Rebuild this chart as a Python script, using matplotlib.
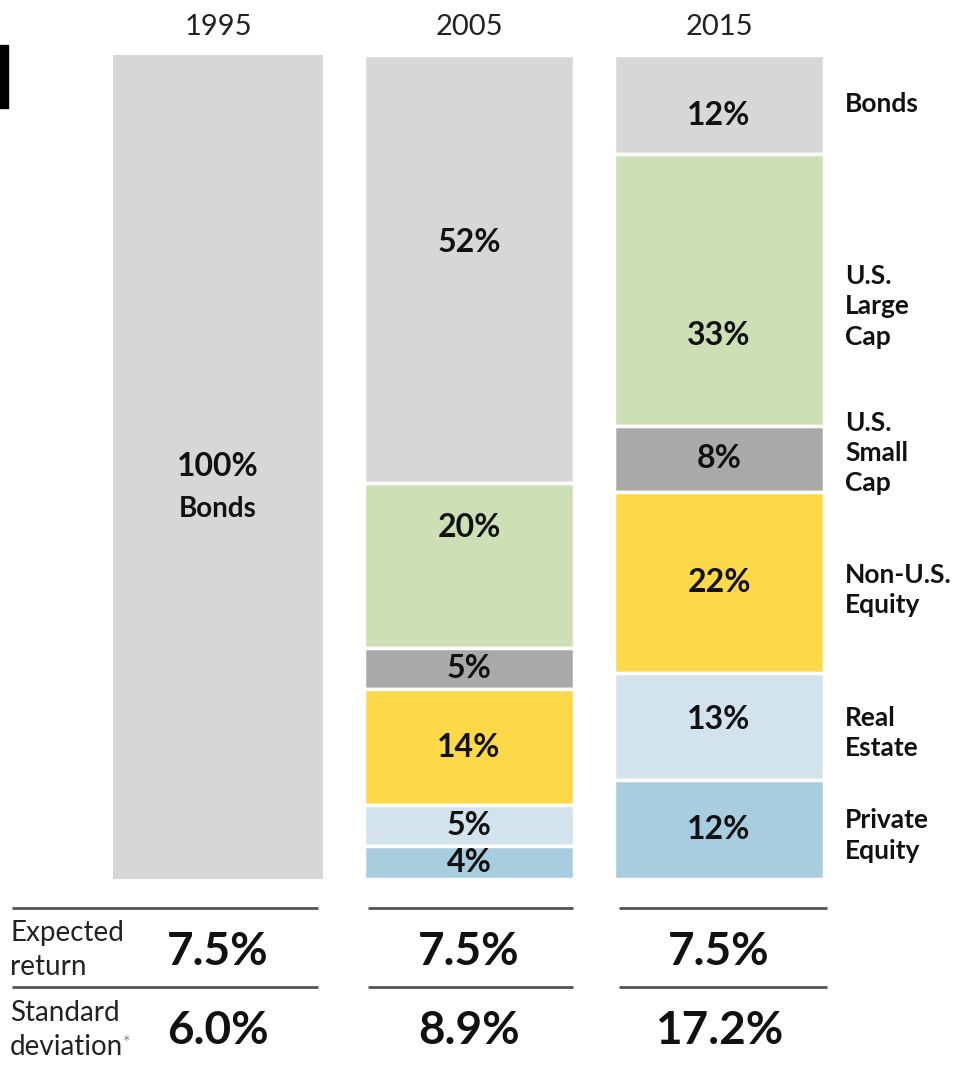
import numpy as np
import matplotlib
matplotlib.use("Agg")
from matplotlib import pyplot as plt
from matplotlib.patches import Rectangle

plt.rcParams['font.family'] = ['Lato', 'DejaVu Sans']

years = ['1995', '2005', '2015']
categories = ['Bonds', 'U.S.\nLarge\nCap', 'U.S.\nSmall\nCap',
              'Non-U.S.\nEquity', 'Real\nEstate', 'Private\nEquity']
alloc_1995 = [100, 0, 0, 0, 0, 0]
alloc_2005 = [52, 20, 5, 14, 5, 4]
alloc_2015 = [12, 33, 8, 22, 13, 12]
expected_return = [7.5, 7.5, 7.5]
std_dev = [6.0, 8.9, 17.2]

colors = ['#d7d7d7', '#cddfb5', '#a9a9a9', '#fdd94a', '#d3e3ee', '#a8cddf']

# layout in pixels
W, H = 955, 1070
bar_x = [218, 469, 719]
bar_w = 210
top_px, bot_px = 55, 879

fig = plt.figure(figsize=(W / 100, H / 100), dpi=100)

ax = fig.add_axes([0, 1 - bot_px / H, 1, (bot_px - top_px) / H])
ax.set_xlim(0, W)
ax.set_ylim(100, 0)
ax.axis('off')

# overlay in pixel coords for text and rules
ov = fig.add_axes([0, 0, 1, 1], zorder=3)
ov.set_xlim(0, W)
ov.set_ylim(H, 0)
ov.axis('off')
ov.patch.set_alpha(0)

def px_y(v):
    # percent-from-top -> pixel row
    return top_px + v / 100 * (bot_px - top_px)

# label nudges (percent units) for a few segments
nudge_2005 = [-3.3, -4.7, 0, 0, 0, 0]
nudge_2015 = [1.4, 5.5, 0, 0, -0.8, 0]
cat_nudge = [0, 2.0, -0.7, 0.9, 0.8, 0.7]

ink = '#111111'

# 1995: single bond block
ax.bar(bar_x[0], alloc_1995[0], width=bar_w, bottom=0, color=colors[0],
       linewidth=0)
ov.text(bar_x[0], px_y(alloc_1995[0] / 2), f'{alloc_1995[0]}%', ha='center',
        va='center', fontsize=23, fontweight='bold', color=ink)
ov.text(bar_x[0], px_y(alloc_1995[0] / 2) + 42, 'Bonds', ha='center',
        va='center', fontsize=20, fontweight='bold', color=ink)

for xi, vals, nudge in [(bar_x[1], alloc_2005, nudge_2005),
                        (bar_x[2], alloc_2015, nudge_2015)]:
    cum = np.concatenate([[0], np.cumsum(vals)[:-1]])
    ax.bar(xi, vals, width=bar_w, bottom=cum, color=colors,
           edgecolor='white', linewidth=2.5)
    for v, b, n in zip(vals, cum, nudge):
        ov.text(xi, px_y(b + v / 2 + n), f'{v}%', ha='center', va='center',
                fontsize=23, fontweight='bold', color=ink)

# category names next to the 2015 column
cum15 = np.concatenate([[0], np.cumsum(alloc_2015)[:-1]])
for name, v, b, n in zip(categories, alloc_2015, cum15, cat_nudge):
    ov.text(845, px_y(b + v / 2 + n), name, ha='left', va='center',
            fontsize=19, fontweight='bold', color=ink, linespacing=1.32)

# year headers
for xi, yr in zip(bar_x, years):
    ov.text(xi, 27, yr, ha='center', va='center', fontsize=21, color='#222222')

# bottom table rules
rule_spans = [(12, 318), (368, 573), (619, 827)]
for y in (908, 987):
    for x0, x1 in rule_spans:
        ov.plot([x0, x1], [y, y], color='#555555', lw=2, solid_capstyle='butt')

ov.text(10, 950, 'Expected\nreturn', ha='left', va='center', fontsize=20,
        color='#222222', linespacing=1.35)
sd_lbl = ov.text(10, 1030, 'Standard\ndeviation', ha='left', va='center',
                 fontsize=20, color='#222222', linespacing=1.35)
ov.annotate('*', xy=(1.0, 0.28), xycoords=sd_lbl, ha='left', va='center',
            fontsize=13, color='#888888')

for xi, er, sd in zip(bar_x, expected_return, std_dev):
    ov.text(xi, 952, f'{er:.1f}%', ha='center', va='center', fontsize=33,
            fontweight='bold', color=ink)
    ov.text(xi, 1031, f'{sd:.1f}%', ha='center', va='center', fontsize=33,
            fontweight='bold', color=ink)

# black edge strip at top-left
fig.patches.append(Rectangle((0, 1 - 108 / H), 8 / W, 63 / H, color='black',
                             transform=fig.transFigure, figure=fig))

fig.savefig('out.png', dpi=100, facecolor='white')
